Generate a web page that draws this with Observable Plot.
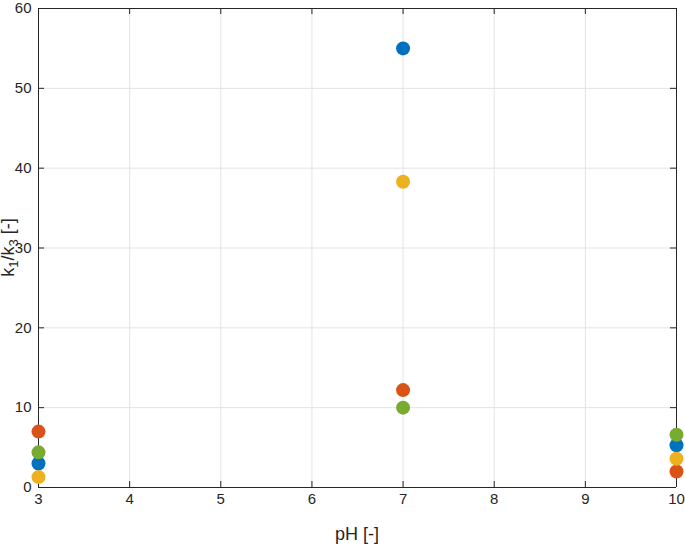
<!DOCTYPE html>
<html><head><meta charset="utf-8">
<script src="https://cdn.jsdelivr.net/npm/d3@7"></script>
<script src="https://cdn.jsdelivr.net/npm/@observablehq/plot@0.6"></script>
<style>html,body{margin:0;padding:0;background:#fff;overflow:hidden}</style>
</head><body><div id="chart"></div>
<script>
const pH = [3, 7, 10];
const series = ["S1", "S2", "S3", "S4"];
const colors = ["#0072BD", "#D95319", "#EDB120", "#77AC30"];
const s1 = [3.0, 55.0, 5.3];
const s2 = [7.0, 12.2, 2.0];
const s3 = [1.3, 38.3, 3.6];
const s4 = [4.4, 10.0, 6.6];
const xTicks = [3, 4, 5, 6, 7, 8, 9, 10];
const yTicks = [0, 10, 20, 30, 40, 50, 60];
const xDomain = [3, 10];
const yDomain = [0, 60];

const vals = [s1, s2, s3, s4];
const seriesData = vals.map(v => pH.map((p, j) => ({pH: p, v: v[j]})));

const W = 685, H = 548, mL = 38, mR = 9, mT = 8, mB = 61;
const pw = W - mL - mR, ph = H - mT - mB, tl = 6;
const axCol = "#262626", gridCol = "#e3e3e3";
const font = "'Liberation Sans', Arial, Helvetica, sans-serif";

const plot = Plot.plot({
  width: W, height: H,
  marginLeft: mL, marginRight: mR, marginTop: mT, marginBottom: mB,
  style: {fontFamily: font, fontSize: "15px", background: "#fff"},
  x: {domain: xDomain, axis: null},
  y: {domain: yDomain, axis: null},
  marks: [
    Plot.ruleX(xTicks, {x: d => d, stroke: gridCol}),
    Plot.ruleY(yTicks, {y: d => d, stroke: gridCol}),
    Plot.ruleX(xTicks, {x: d => d, stroke: axCol, insetTop: ph - tl}),
    Plot.ruleX(xTicks, {x: d => d, stroke: axCol, insetBottom: ph - tl}),
    Plot.ruleY(yTicks, {y: d => d, stroke: axCol, insetRight: pw - tl}),
    Plot.ruleY(yTicks, {y: d => d, stroke: axCol, insetLeft: pw - tl}),
    Plot.ruleX(xDomain, {x: d => d, stroke: axCol}),
    Plot.ruleY(yDomain, {y: d => d, stroke: axCol}),
    Plot.text(xTicks, {x: d => d, text: d => String(d), frameAnchor: "bottom", lineAnchor: "top", dy: 6, fontSize: 15, fill: axCol}),
    Plot.text(yTicks, {y: d => d, text: d => String(d), frameAnchor: "left", textAnchor: "end", dx: -7, fontSize: 15, fill: axCol}),
    ...seriesData.map((d, i) => Plot.dot(d, {x: "pH", y: "v", fill: colors[i], r: 7}))
  ]
});
document.getElementById("chart").appendChild(plot);

const xs = plot.scale("x"), ys = plot.scale("y");
const [x0, x1] = xs.range, [y0, y1] = ys.range;
const svg = d3.select(plot);
svg.append("text")
  .attr("x", (x0 + x1) / 2).attr("y", H - 8)
  .attr("text-anchor", "middle").attr("font-size", 18).attr("fill", axCol)
  .text("pH [-]");
const yl = svg.append("text")
  .attr("transform", `translate(14,${(y0 + y1) / 2}) rotate(-90)`)
  .attr("text-anchor", "middle").attr("font-size", 18).attr("fill", axCol);
yl.append("tspan").text("k");
yl.append("tspan").attr("font-size", 13).attr("dy", 4).text("1");
yl.append("tspan").attr("dy", -4).text("/k");
yl.append("tspan").attr("font-size", 13).attr("dy", 4).text("3");
yl.append("tspan").attr("dy", -4).text(" [-]");
</script>
</body></html>
